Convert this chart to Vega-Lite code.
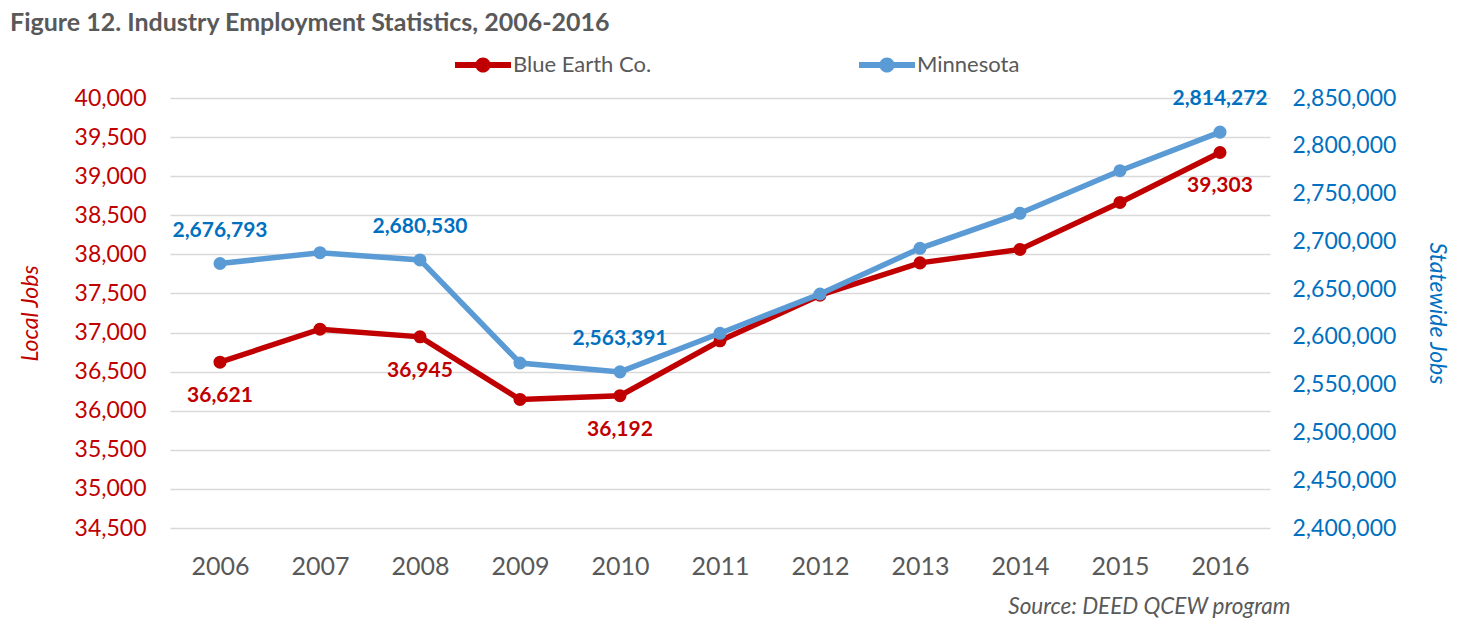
{
  "$schema": "https://vega.github.io/schema/vega-lite/v6.json",
  "width": 1100,
  "height": 430,
  "autosize": {"type": "none"},
  "padding": {"left": 170, "top": 98, "right": 208, "bottom": 100},
  "background": "white",
  "config": {"font": "Lato", "view": {"stroke": null}},
  "title": {
    "text": "Figure 12. Industry Employment Statistics, 2006-2016",
    "anchor": "start",
    "frame": "group",
    "dx": -160,
    "offset": 1,
    "fontSize": 25,
    "fontWeight": "bold",
    "color": "#595959"
  },
  "data": {
    "values": [
      {"year": "2006", "series": "Blue Earth Co.", "value": 36621},
      {"year": "2007", "series": "Blue Earth Co.", "value": 37043},
      {"year": "2008", "series": "Blue Earth Co.", "value": 36945},
      {"year": "2009", "series": "Blue Earth Co.", "value": 36144},
      {"year": "2010", "series": "Blue Earth Co.", "value": 36192},
      {"year": "2011", "series": "Blue Earth Co.", "value": 36894},
      {"year": "2012", "series": "Blue Earth Co.", "value": 37478},
      {"year": "2013", "series": "Blue Earth Co.", "value": 37891},
      {"year": "2014", "series": "Blue Earth Co.", "value": 38063},
      {"year": "2015", "series": "Blue Earth Co.", "value": 38664},
      {"year": "2016", "series": "Blue Earth Co.", "value": 39303},
      {"year": "2006", "series": "Minnesota", "value": 2676793},
      {"year": "2007", "series": "Minnesota", "value": 2688106},
      {"year": "2008", "series": "Minnesota", "value": 2680530},
      {"year": "2009", "series": "Minnesota", "value": 2572677},
      {"year": "2010", "series": "Minnesota", "value": 2563391},
      {"year": "2011", "series": "Minnesota", "value": 2603759},
      {"year": "2012", "series": "Minnesota", "value": 2644886},
      {"year": "2013", "series": "Minnesota", "value": 2692711},
      {"year": "2014", "series": "Minnesota", "value": 2729339},
      {"year": "2015", "series": "Minnesota", "value": 2773919},
      {"year": "2016", "series": "Minnesota", "value": 2814272}
    ]
  },
  "encoding": {
    "x": {
      "field": "year",
      "type": "ordinal",
      "scale": {"type": "point", "padding": 0.5},
      "axis": {
        "labelAngle": 0,
        "labelFontSize": 25,
        "labelColor": "#595959",
        "labelPadding": 26,
        "domain": false,
        "ticks": false,
        "grid": false,
        "title": "Source: DEED QCEW program",
        "titleFontStyle": "italic",
        "titleFontWeight": "normal",
        "titleFontSize": 22.5,
        "titleColor": "#595959",
        "titleAnchor": "end",
        "titleAlign": "right",
        "titleBaseline": "middle",
        "titleX": 1120,
        "titleY": 78
      }
    }
  },
  "layer": [
    {
      "transform": [{"filter": "datum.series == 'Blue Earth Co.'"}],
      "encoding": {
        "y": {
          "field": "value",
          "type": "quantitative",
          "scale": {"domain": [34500, 40000], "zero": false, "nice": false},
          "axis": {
            "orient": "left",
            "values": [34500, 35000, 35500, 36000, 36500, 37000, 37500, 38000, 38500, 39000, 39500, 40000],
            "format": ",d",
            "labelFontSize": 23,
            "labelColor": "#C00000",
            "labelPadding": 24,
            "domain": false,
            "ticks": false,
            "grid": true,
            "gridColor": "#D9D9D9",
            "gridWidth": 1.5,
            "title": "Local Jobs",
            "titleFontSize": 23,
            "titleFontStyle": "italic",
            "titleFontWeight": "normal",
            "titleColor": "#C00000",
            "titlePadding": 32
          }
        }
      },
      "layer": [
        {
          "mark": {"type": "line", "strokeWidth": 5.5, "point": {"filled": true, "size": 170}},
          "encoding": {
            "color": {
              "field": "series",
              "type": "nominal",
              "scale": {"domain": ["Blue Earth Co.", "Minnesota"], "range": ["#C00000", "#5B9BD5"]},
              "legend": {
                "orient": "none",
                "legendX": 285,
                "legendY": -61,
                "direction": "horizontal",
                "title": null,
                "symbolType": "M-1,-0.11L1,-0.11L1,0.11L-1,0.11Z M-0.27,0A0.27,0.27,0,1,1,0.27,0A0.27,0.27,0,1,1,-0.27,0Z",
                "symbolSize": 3136,
                "symbolStrokeWidth": 0,
                "labelFontSize": 22,
                "labelColor": "#595959",
                "labelOffset": 2,
                "columnPadding": 207,
                "encode": {
                  "symbols": {
                    "update": {
                      "fill": {"scale": "color", "field": "value"},
                      "stroke": {"value": "transparent"},
                      "opacity": {"value": 1}
                    }
                  }
                }
              }
            }
          }
        },
        {
          "transform": [{"filter": {"field": "year", "oneOf": ["2006", "2008", "2010", "2016"]}}],
          "mark": {"type": "text", "dy": 34, "fontSize": 21, "fontWeight": "bold", "color": "#C00000"},
          "encoding": {"text": {"field": "value", "type": "quantitative", "format": ","}}
        }
      ]
    },
    {
      "transform": [{"filter": "datum.series == 'Minnesota'"}],
      "encoding": {
        "y": {
          "field": "value",
          "type": "quantitative",
          "scale": {"domain": [2400000, 2850000], "zero": false, "nice": false},
          "axis": {
            "orient": "right",
            "values": [2400000, 2450000, 2500000, 2550000, 2600000, 2650000, 2700000, 2750000, 2800000, 2850000],
            "format": ",d",
            "labelFontSize": 23,
            "labelColor": "#0070C0",
            "labelPadding": 22,
            "domain": false,
            "ticks": false,
            "grid": false,
            "title": "Statewide Jobs",
            "titleFontSize": 23,
            "titleFontStyle": "italic",
            "titleFontWeight": "normal",
            "titleColor": "#0070C0",
            "titlePadding": 29
          }
        }
      },
      "layer": [
        {
          "mark": {"type": "line", "strokeWidth": 5.5, "point": {"filled": true, "size": 170}},
          "encoding": {
            "color": {"field": "series", "type": "nominal"}
          }
        },
        {
          "transform": [{"filter": {"field": "year", "oneOf": ["2006", "2008", "2010", "2016"]}}],
          "mark": {"type": "text", "dy": -33, "fontSize": 21, "fontWeight": "bold", "color": "#0070C0"},
          "encoding": {"text": {"field": "value", "type": "quantitative", "format": ","}}
        }
      ]
    }
  ],
  "resolve": {"scale": {"y": "independent"}, "axis": {"y": "independent"}}
}
